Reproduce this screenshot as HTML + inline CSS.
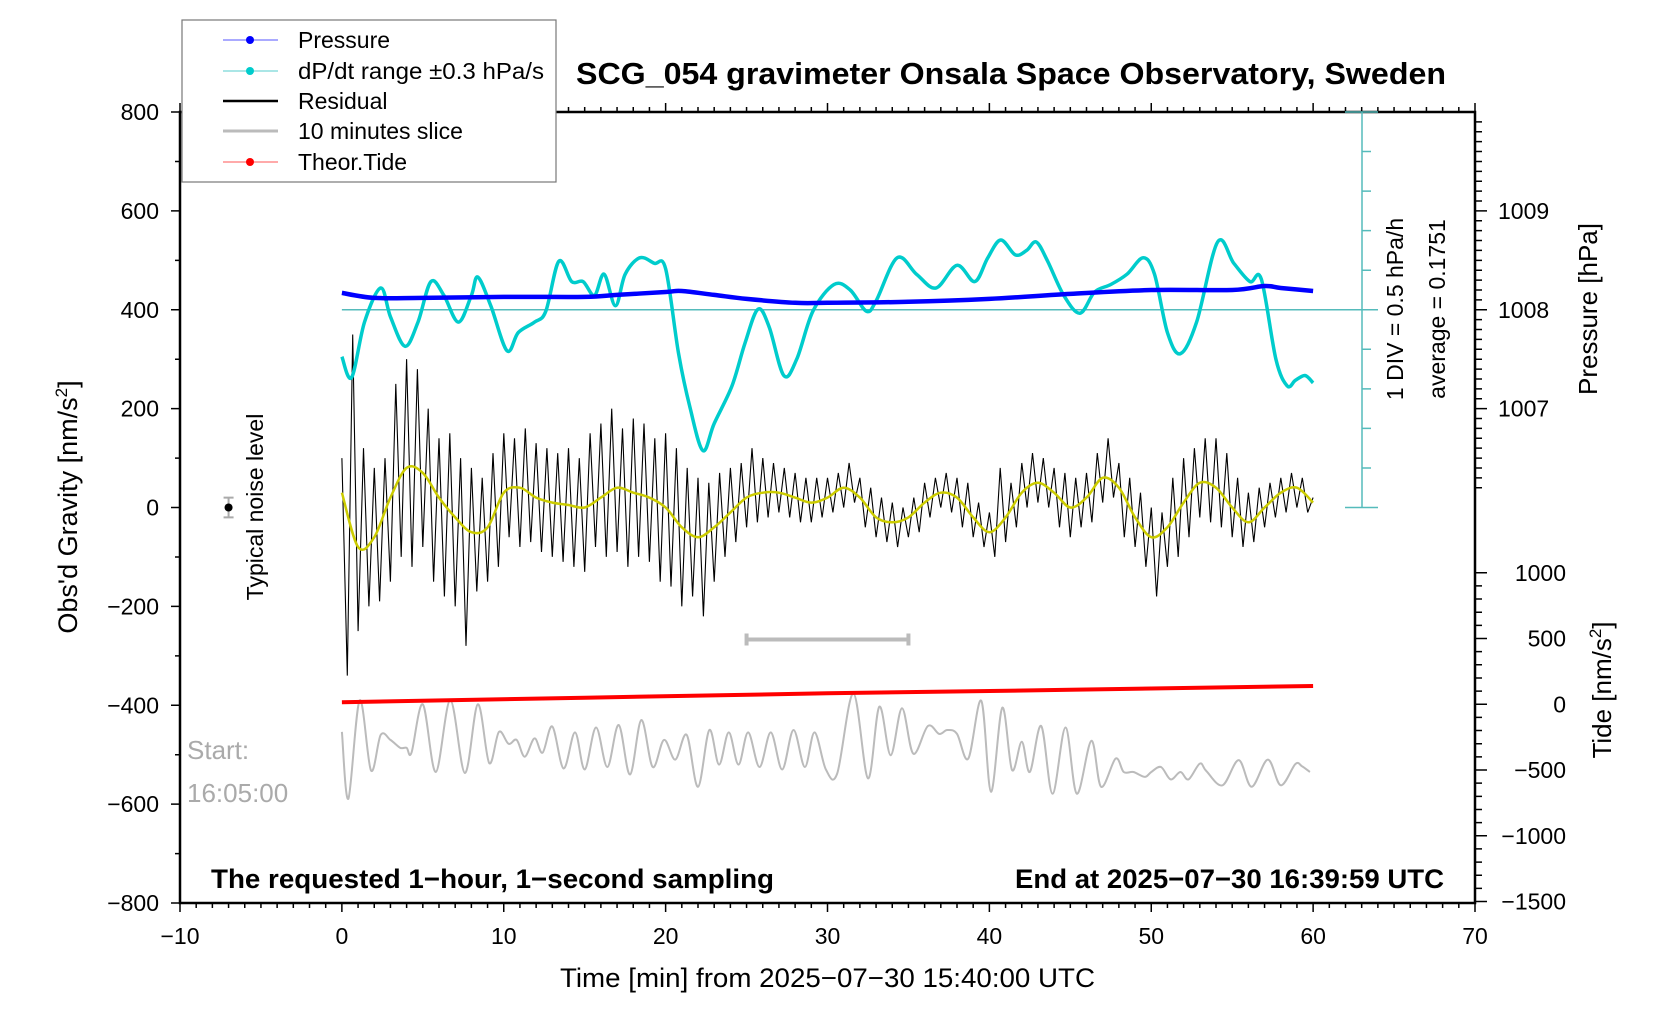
<!DOCTYPE html>
<html><head><meta charset="utf-8"><style>
html,body{margin:0;padding:0;background:#fff;}
svg{display:block;font-family:"Liberation Sans",sans-serif;}
</style></head><body>
<svg id="chart" width="1676" height="1020" viewBox="0 0 1676 1020" xmlns="http://www.w3.org/2000/svg">
<rect x="0" y="0" width="1676" height="1020" fill="#fff"/>
<g id="plot"></g>
<text x="576" y="84" font-size="31" font-weight="bold" textLength="870" lengthAdjust="spacingAndGlyphs">SCG_054 gravimeter Onsala Space Observatory, Sweden</text>
<text x="560" y="987" font-size="27" textLength="535" lengthAdjust="spacingAndGlyphs">Time [min] from 2025−07−30 15:40:00 UTC</text>
<text transform="translate(77,507) rotate(-90)" font-size="27" text-anchor="middle">Obs'd Gravity [nm/s<tspan font-size="17" dy="-10">2</tspan><tspan dy="10">]</tspan></text>
<text transform="translate(1597,309) rotate(-90)" font-size="26" text-anchor="middle">Pressure [hPa]</text>
<text transform="translate(1611,690) rotate(-90)" font-size="26" text-anchor="middle">Tide [nm/s<tspan font-size="17" dy="-10">2</tspan><tspan dy="10">]</tspan></text>
<text transform="translate(263,507) rotate(-90)" font-size="23" text-anchor="middle">Typical noise level</text>
<text transform="translate(1403,309) rotate(-90)" font-size="23" text-anchor="middle">1 DIV = 0.5 hPa/h</text>
<text transform="translate(1445,309) rotate(-90)" font-size="23" text-anchor="middle">average = 0.1751</text>
<text x="187" y="759" font-size="26" fill="#aaa">Start:</text>
<text x="187" y="802" font-size="26" fill="#aaa">16:05:00</text>
<text x="211" y="888" font-size="27" font-weight="bold" textLength="563" lengthAdjust="spacingAndGlyphs">The requested 1−hour, 1−second sampling</text>
<text x="1015" y="888" font-size="27" font-weight="bold" textLength="429" lengthAdjust="spacingAndGlyphs">End at 2025−07−30 16:39:59 UTC</text>
<g>
<rect x="182" y="20" width="374" height="162" fill="#fff" stroke="#777" stroke-width="1.2"/>
<g><line x1="223" y1="40" x2="278" y2="40" stroke="#55f" stroke-width="1"/><circle cx="250" cy="40" r="4" fill="#00f"/><text x="298" y="48" font-size="23">Pressure</text></g>
<g><line x1="223" y1="71" x2="278" y2="71" stroke="#5cc" stroke-width="1"/><circle cx="250" cy="71" r="4" fill="#0cc"/><text x="298" y="79" font-size="23" textLength="246" lengthAdjust="spacingAndGlyphs">dP/dt range ±0.3 hPa/s</text></g>
<g><line x1="223" y1="101" x2="278" y2="101" stroke="#000" stroke-width="2.5"/><text x="298" y="109" font-size="23">Residual</text></g>
<g><line x1="223" y1="131" x2="278" y2="131" stroke="#bbb" stroke-width="3"/><text x="298" y="139" font-size="23">10 minutes slice</text></g>
<g><line x1="223" y1="162" x2="278" y2="162" stroke="#f55" stroke-width="1"/><circle cx="250" cy="162" r="4" fill="#f00"/><text x="298" y="170" font-size="23">Theor.Tide</text></g>
</g>
</svg>
<script>
// ---- data ----
const xTicks = [-10,0,10,20,30,40,50,60,70];
const yTicks = [800,600,400,200,0,-200,-400,-600,-800];
const pressureTicks = [1009,1008,1007];
const tideTicks = [1000,500,0,-500,-1000,-1500];
const pressureTimes = [0,2,5,10,15,17,20,21,23,25,28,30,35,40,45,50,55,57,58,60];
const pressureVals = [1008.17,1008.12,1008.12,1008.13,1008.13,1008.15,1008.18,1008.19,1008.15,1008.11,1008.07,1008.07,1008.08,1008.11,1008.16,1008.2,1008.2,1008.24,1008.22,1008.19];
const dpdtTimes = [0,0.6,1.4,2.4,3.0,3.9,4.7,5.5,6.3,7.2,8.0,8.4,9.2,10.2,10.9,11.9,12.6,13.4,14.2,14.9,15.6,16.2,16.9,17.5,18.4,19.3,20.0,20.8,21.5,22.3,23.0,24.1,24.9,25.7,26.4,27.3,28.1,29.1,30.4,31.4,32.4,33.0,34.3,35.5,36.7,38.0,39.1,39.9,40.7,41.6,42.3,42.9,43.6,44.6,45.6,46.5,47.5,48.5,49.5,50.2,51.0,51.8,52.8,54.1,55.1,56.1,56.8,57.7,58.4,58.9,59.5,60];
const dpdtScaled = [305,263,375,444,386,326,375,457,429,375,429,466,408,317,354,375,397,498,457,457,429,472,408,472,505,494,483,311,203,115,170,246,332,401,365,267,300,397,451,440,397,418,505,472,444,490,457,505,541,511,520,537,498,429,393,436,451,472,505,472,354,311,375,537,494,457,462,300,246,257,267,252];
const dpdtBaseline = 400;
const residual = [100,-340,350,-250,120,-200,80,-190,100,-150,250,-100,300,-120,280,-80,200,-150,140,-180,150,-200,100,-280,80,-170,60,-150,110,-120,150,-60,140,-80,160,-70,130,-90,120,-100,110,-110,120,-120,100,-130,150,-80,170,-100,200,-90,160,-120,180,-100,170,-110,140,-150,150,-160,120,-200,80,-180,60,-220,50,-150,70,-100,80,-70,90,-40,120,-30,100,-20,90,-10,80,-20,70,-30,60,-30,60,-20,60,-10,70,0,90,10,60,-40,40,-60,20,-70,10,-80,0,-60,20,-50,50,-20,60,0,70,-10,60,-40,50,-60,10,-80,-10,-100,80,-70,50,-40,90,0,110,10,100,0,80,-40,70,-60,60,-40,70,-30,110,10,140,20,90,-60,60,-80,30,-120,0,-180,-10,-120,60,-100,100,-60,120,-20,140,-30,140,-40,110,-60,60,-80,30,-70,40,-40,50,-20,60,-10,70,0,60,-10,20];
const smoothed = [30,-80,-60,20,80,70,20,-20,-50,-40,30,40,20,10,5,0,20,40,30,20,0,-40,-60,-40,-10,20,30,30,20,10,20,40,20,-20,-30,-20,10,30,20,-20,-50,-20,30,50,30,0,20,60,40,-20,-60,-40,10,50,40,0,-30,0,30,40,10];
const sliceTimes = [0,0.4,1.1,1.8,2.4,3.0,3.6,4.0,4.3,5.0,5.8,6.7,7.6,8.4,9.1,9.7,10.3,10.8,11.3,11.9,12.4,13.0,13.7,14.4,15.0,15.7,16.4,17.1,17.8,18.5,19.2,19.9,20.6,21.3,22.0,22.7,23.3,23.9,24.5,25.1,25.8,26.5,27.2,27.9,28.6,29.2,29.9,30.6,31.6,32.5,33.2,33.9,34.6,35.3,36.2,36.9,37.4,38.0,38.7,39.5,40.1,40.8,41.4,42.0,42.5,43.2,43.9,44.7,45.4,46.3,46.9,47.8,48.3,48.9,49.6,50.0,50.6,51.2,51.8,52.3,53.0,53.4,54.4,55.4,56.2,57.2,58.0,58.9,59.3,59.8];
const sliceVals = [-454,-589,-390,-532,-460,-470,-486,-486,-496,-398,-535,-390,-537,-398,-517,-454,-478,-470,-504,-467,-496,-443,-528,-455,-530,-445,-525,-440,-540,-430,-525,-470,-510,-460,-565,-450,-520,-455,-520,-455,-525,-455,-530,-450,-525,-455,-530,-538,-376,-548,-403,-501,-406,-498,-442,-458,-450,-458,-508,-391,-575,-405,-531,-474,-535,-442,-579,-445,-579,-472,-565,-508,-535,-535,-545,-535,-525,-550,-535,-550,-518,-533,-562,-511,-565,-510,-562,-519,-523,-535];
const tideTimes = [0,15,30,45,60];
const tideVals = [15,50,83,110,139];
const sliceBar = [25,35,-267];
const noisePoint = [-7,0,20];

// ---- axes ----
const X0=180,X1=1475,Y0=112,Y1=903;
const xs = t => X0 + (t+10)*(X1-X0)/80;
const ys = g => Y1 - (g+800)*(Y1-Y0)/1600;
const yp = p => ys(400 + (p-1008)*200);
const yt = v => ys(-398 + v*0.266);
const NS='http://www.w3.org/2000/svg';
const plot=document.getElementById('plot');
function mk(tag,attrs,parent){const e=document.createElementNS(NS,tag);for(const k in attrs)e.setAttribute(k,attrs[k]);(parent||plot).appendChild(e);return e;}
function pts(xsArr,ysArr,fy){return xsArr.map((t,i)=>xs(t).toFixed(1)+','+fy(ysArr[i]).toFixed(1)).join(' ');}
function smoothPath(xsArr,ysArr,fy){
  const P=xsArr.map((t,i)=>[xs(t),fy(ysArr[i])]);
  let d=`M${P[0][0].toFixed(1)},${P[0][1].toFixed(1)}`;
  for(let i=0;i<P.length-1;i++){
    const p0=P[Math.max(0,i-1)],p1=P[i],p2=P[i+1],p3=P[Math.min(P.length-1,i+2)];
    const c1=[p1[0]+(p2[0]-p0[0])/6,p1[1]+(p2[1]-p0[1])/6];
    const c2=[p2[0]-(p3[0]-p1[0])/6,p2[1]-(p3[1]-p1[1])/6];
    d+=`C${c1[0].toFixed(1)},${c1[1].toFixed(1)} ${c2[0].toFixed(1)},${c2[1].toFixed(1)} ${p2[0].toFixed(1)},${p2[1].toFixed(1)}`;
  }
  return d;
}

const frame=mk('rect',{x:X0,y:Y0,width:X1-X0,height:Y1-Y0,fill:'none',stroke:'#000','stroke-width':2.5});


let tk='';
for(let t=-10;t<=70;t++){const L=(t%10===0)?9:5;tk+=`M${xs(t)},${Y1}v${L}M${xs(t)},${Y0}v${-L}`;}
for(let g=-800;g<=800;g+=100){const L=(g%200===0)?9:5;tk+=`M${X0},${ys(g)}h${-L}`;}
for(let p=1006.2;p<=1009.95;p+=0.1){const r=Math.round(p*10)/10;const L=(Math.abs(r-Math.round(r))<0.01)?12:7;tk+=`M${X1},${yp(r)}h${L}`;}
for(let v=-1500;v<=1000;v+=100){const L=(v%500===0)?12:7;tk+=`M${X1},${yt(v)}h${L}`;}
const ticks=mk('path',{d:tk,stroke:'#000','stroke-width':1.5,fill:'none'});


xTicks.forEach(t=>{const e=mk('text',{x:xs(t),y:944,'font-size':23,'text-anchor':'middle'});e.textContent=String(t).replace('-','−');

});
yTicks.forEach(g=>{const e=mk('text',{x:159,y:ys(g)+8,'font-size':23,'text-anchor':'end'});e.textContent=String(g).replace('-','−');

});
pressureTicks.forEach(p=>{const e=mk('text',{x:1498,y:yp(p)+8,'font-size':23});e.textContent=p;

});
tideTicks.forEach(v=>{const e=mk('text',{x:1566,y:yt(v)+8,'font-size':23,'text-anchor':'end'});e.textContent=String(v).replace('-','−');

});

const sx=1362;
let sb=`M${sx},${ys(800)}V${ys(0)}M1345,${ys(0)}H1378M1345,${ys(800)}H1378`;
for(let k=1;k<10;k++){sb+=`M${sx},${ys(k*80)}h9`;}
const scale=mk('path',{d:sb,stroke:'#5bb',fill:'none','stroke-width':1.5});


const base=mk('line',{x1:xs(0),y1:ys(dpdtBaseline),x2:1378,y2:ys(dpdtBaseline),stroke:'#5bb','stroke-width':1.5});



const resT=residual.map((v,i)=>i/3);
const res=mk('polyline',{points:pts(resT,residual,ys),fill:'none',stroke:'#000','stroke-width':1.1});


const smT=smoothed.map((v,i)=>i);
const sm=mk('path',{d:smoothPath(smT,smoothed,ys),fill:'none',stroke:'#cc0','stroke-width':2.5});


const dp=mk('path',{d:smoothPath(dpdtTimes,dpdtScaled,ys),fill:'none',stroke:'#0cc','stroke-width':3.5});


const pr=mk('path',{d:smoothPath(pressureTimes,pressureVals,yp),fill:'none',stroke:'#00f','stroke-width':4.5});


const sl=mk('path',{d:smoothPath(sliceTimes,sliceVals,ys),fill:'none',stroke:'#bbb','stroke-width':2});


const td=mk('polyline',{points:pts(tideTimes,tideVals,yt),fill:'none',stroke:'#f00','stroke-width':4});


const bar=mk('path',{d:`M${xs(sliceBar[0])},${ys(sliceBar[2])}H${xs(sliceBar[1])}M${xs(sliceBar[0])},${ys(sliceBar[2])-6}v12M${xs(sliceBar[1])},${ys(sliceBar[2])-6}v12`,stroke:'#bbb','stroke-width':4,fill:'none'});


const nb=mk('path',{d:`M${xs(noisePoint[0])},${ys(noisePoint[1]+noisePoint[2])}V${ys(noisePoint[1]-noisePoint[2])}M${xs(noisePoint[0])-5},${ys(noisePoint[1]+noisePoint[2])}h10M${xs(noisePoint[0])-5},${ys(noisePoint[1]-noisePoint[2])}h10`,stroke:'#aaa','stroke-width':2,fill:'none'});


const nd=mk('circle',{cx:xs(noisePoint[0]),cy:ys(noisePoint[1]),r:4,fill:'#000'});


</script>
</body></html>
